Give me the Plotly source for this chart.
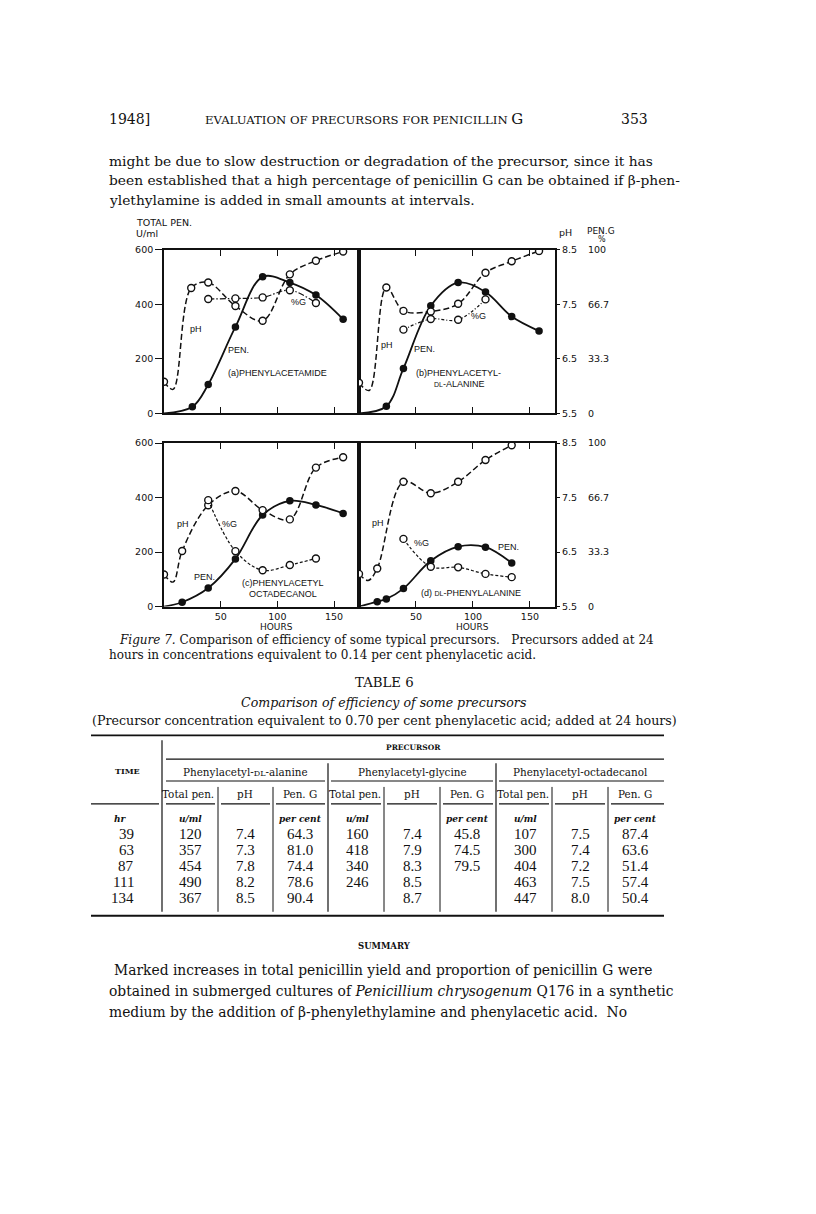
import plotly.graph_objects as go

W, H = 816, 1214

# ---------------- Figure 7 data ----------------
hour_ticks = [50, 100, 150]
pen_ticks = [0, 200, 400, 600]
pen_ticktext = ["0", "200", "400", "600"]
ph_ticks = [5.5, 6.5, 7.5, 8.5]
ph_ticktext = ["5.5", "6.5", "7.5", "8.5"]
g_ticks = [0, 33.3, 66.7, 100]
g_ticktext = ["0", "33.3", "66.7", "100"]

pen_start = (0, 0)   # total-penicillin curves start at the origin

# (a) phenylacetamide
a_pen_hours = [25, 39, 63, 87, 111, 134, 158]
a_pen = [24, 106, 317, 501, 480, 434, 345]
a_ph_hours = [0, 24, 39, 63, 87, 111, 134, 158]
a_ph = [6.08, 7.80, 7.90, 7.47, 7.20, 8.05, 8.30, 8.47]
a_ph_trough = (8, 5.94)
a_g_hours = [39, 63, 87, 111, 134]
a_g = [69.9, 70.3, 70.9, 75.3, 67.5]

# (b) phenylacetyl-DL-alanine
b_pen_hours = [24, 39, 63, 87, 111, 134, 158]
b_pen = [26, 165, 395, 480, 445, 355, 302]
b_ph_hours = [0, 24, 39, 63, 87, 111, 134, 158]
b_ph = [6.06, 7.81, 7.38, 7.37, 7.51, 8.08, 8.29, 8.48]
b_ph_trough = (9, 5.92)
b_g_hours = [39, 63, 87, 111]
b_g = [51.2, 57.7, 57.2, 69.7]

# (c) phenylacetyl octadecanol
c_pen_hours = [16, 39, 63, 87, 111, 134, 158]
c_pen = [16, 68, 175, 336, 388, 373, 342]
c_ph_hours = [0, 16, 39, 63, 87, 111, 134, 158]
c_ph = [6.09, 6.52, 7.36, 7.62, 7.27, 7.10, 8.05, 8.24]
c_ph_trough = (8, 5.95)
c_g_hours = [39, 63, 87, 111, 134]
c_g = [65.1, 33.9, 22.2, 25.4, 29.4]

# (d) DL-phenylalanine
d_pen_hours = [16, 24, 39, 63, 87, 111, 134]
d_pen = [18, 28, 66, 168, 220, 218, 160]
d_ph_hours = [0, 16, 39, 63, 87, 111, 134]
d_ph = [6.10, 6.20, 7.79, 7.58, 7.79, 8.19, 8.46]
d_ph_trough = (8, 5.98)
d_g_hours = [39, 63, 87, 111, 134]
d_g = [41.4, 24.4, 24.0, 20.0, 18.0]

# ---------------- Table 6 data ----------------
table_hours = [39, 63, 87, 111, 134]
ala_pen = [120, 357, 454, 490, 367]
ala_ph = [7.4, 7.3, 7.8, 8.2, 8.5]
ala_g = [64.3, 81.0, 74.4, 78.6, 90.4]
gly_pen = [160, 418, 340, 246, None]
gly_ph = [7.4, 7.9, 8.3, 8.5, 8.7]
gly_g = [45.8, 74.5, 79.5, None, None]
oct_pen = [107, 300, 404, 463, 447]
oct_ph = [7.5, 7.4, 7.2, 7.5, 8.0]
oct_g = [87.4, 63.6, 51.4, 57.4, 50.4]

# ---------------- helpers ----------------
SERIF = "DejaVu Serif, serif"
NUMF = "Liberation Serif, serif"
SANS = "Liberation Sans, Arial, sans-serif"
TICKF = "DejaVu Sans, sans-serif"
INK = "#111111"
OFF = 9  # page body margin compensation


def px(x):
    return (x - OFF) / W


def py(y):
    return 1 - (y - OFF) / H


def curve(hours, vals, extra):
    pts = sorted(list(zip(hours, vals)) + [extra])
    return [p[0] for p in pts], [p[1] for p in pts]


fig = go.Figure()

panels = [
    dict(x="x", pen="y", ph="y2", g="y3",
         pen_h=a_pen_hours, pen_v=a_pen, ph_h=a_ph_hours, ph_v=a_ph, tr=a_ph_trough,
         g_h=a_g_hours, g_v=a_g, gdash="6px,2px,1.5px,2px"),
    dict(x="x2", pen="y4", ph="y5", g="y6",
         pen_h=b_pen_hours, pen_v=b_pen, ph_h=b_ph_hours, ph_v=b_ph, tr=b_ph_trough,
         g_h=b_g_hours, g_v=b_g, gdash="3px,2px,1px,2px"),
    dict(x="x3", pen="y7", ph="y8", g="y9",
         pen_h=c_pen_hours, pen_v=c_pen, ph_h=c_ph_hours, ph_v=c_ph, tr=c_ph_trough,
         g_h=c_g_hours, g_v=c_g, gdash="3px,2px"),
    dict(x="x4", pen="y10", ph="y11", g="y12",
         pen_h=d_pen_hours, pen_v=d_pen, ph_h=d_ph_hours, ph_v=d_ph, tr=d_ph_trough,
         g_h=d_g_hours, g_v=d_g, gdash="3px,2px"),
]

for p in panels:
    cx, cy = curve(p["pen_h"], p["pen_v"], pen_start)
    fig.add_trace(go.Scatter(x=cx, y=cy, xaxis=p["x"], yaxis=p["pen"], mode="lines",
                             line=dict(color=INK, width=1.8, shape="spline", smoothing=1.0),
                             hoverinfo="skip", showlegend=False))
    fig.add_trace(go.Scatter(x=p["pen_h"], y=p["pen_v"], xaxis=p["x"], yaxis=p["pen"], mode="markers",
                             marker=dict(color=INK, size=7.5, line=dict(color=INK, width=0)),
                             showlegend=False))
    cx, cy = curve(p["ph_h"], p["ph_v"], p["tr"])
    fig.add_trace(go.Scatter(x=cx, y=cy, xaxis=p["x"], yaxis=p["ph"], mode="lines",
                             line=dict(color=INK, width=1.5, dash="6px,3px", shape="spline", smoothing=1.0),
                             hoverinfo="skip", showlegend=False))
    fig.add_trace(go.Scatter(x=p["ph_h"], y=p["ph_v"], xaxis=p["x"], yaxis=p["ph"], mode="markers",
                             marker=dict(color="white", size=7, line=dict(color=INK, width=1.4)),
                             showlegend=False))
    fig.add_trace(go.Scatter(x=p["g_h"], y=p["g_v"], xaxis=p["x"], yaxis=p["g"], mode="lines+markers",
                             line=dict(color=INK, width=1.2, dash=p["gdash"], shape="spline", smoothing=1.0),
                             marker=dict(color="white", size=7, line=dict(color=INK, width=1.4)),
                             showlegend=False))

# ---------------- axes ----------------
col_dom = [[px(165), px(360)], [px(360), px(556)]]
row_dom = [[py(412), py(247)], [py(607), py(442)]]
XR = [0, 172]

layout = {}
for i, p in enumerate(panels):
    col = i % 2
    row = i // 2
    xkey = "xaxis" if i == 0 else "xaxis%d" % (i + 1)
    ypen = p["pen"].replace("y", "yaxis")
    yph = p["ph"].replace("y", "yaxis")
    yg = p["g"].replace("y", "yaxis")
    layout[xkey] = dict(domain=col_dom[col], range=XR, anchor=p["pen"],
                        showline=True, linecolor=INK, linewidth=1.7, mirror="ticks",
                        ticks="inside", ticklen=6, tickwidth=1.4, tickcolor=INK,
                        tickvals=hour_ticks, showgrid=False, zeroline=False,
                        showticklabels=(row == 1),
                        tickfont=dict(family=TICKF, size=9.5, color=INK))
    layout[ypen] = dict(domain=row_dom[row], range=[0, 600], anchor=p["x"],
                        showline=True, linecolor=INK, linewidth=1.7, mirror=True,
                        showgrid=False, zeroline=False,
                        ticks="outside" if col == 0 else "", ticklen=7, tickwidth=1.4, tickcolor=INK,
                        tickvals=pen_ticks, ticktext=pen_ticktext,
                        showticklabels=(col == 0),
                        tickfont=dict(family=TICKF, size=9.5, color=INK))
    if col == 1:
        layout[yph] = dict(range=[5.5, 8.5], overlaying=p["pen"], anchor=p["x"], side="right",
                           showline=False, showgrid=False, zeroline=False,
                           ticks="outside", ticklen=4, tickwidth=1.4, tickcolor=INK,
                           tickvals=ph_ticks, ticktext=ph_ticktext,
                           tickfont=dict(family=TICKF, size=9.5, color=INK))
        layout[yg] = dict(range=[0, 100], overlaying=p["pen"], anchor="free", position=px(588),
                          side="right", showline=False, showgrid=False, zeroline=False, ticks="",
                          tickvals=g_ticks, ticktext=g_ticktext,
                          tickfont=dict(family=TICKF, size=9.5, color=INK))
    else:
        layout[yph] = dict(range=[5.5, 8.5], overlaying=p["pen"], anchor=p["x"], visible=False)
        layout[yg] = dict(range=[0, 100], overlaying=p["pen"], anchor=p["x"], visible=False)

fig.update_layout(**layout)

# ---------------- annotations ----------------
ann = []


def T(x, y, text, size=9, family=SANS, xanchor="center", yanchor="middle", color=INK):
    ann.append(dict(x=px(x), y=py(y), xref="paper", yref="paper", text=text, showarrow=False,
                    xanchor=xanchor, yanchor=yanchor,
                    font=dict(family=family, size=size, color=color)))


small = "<span style='font-size:7px'>%s</span>"

# chart labels
T(165, 219, "TOTAL PEN.", 9.5, TICKF)
T(148, 231, "U/ml", 9.5, TICKF)
T(566, 230, "pH", 9.5, TICKF)
T(602, 228, "PEN.G", 9, TICKF)
T(603, 237, "%", 8, TICKF)
T(277, 628, "HOURS", 9, TICKF)
T(473, 628, "HOURS", 9, TICKF)

T(197, 327, "pH", 9)
T(239, 348, "PEN.", 9)
T(278, 371, "(a)PHENYLACETAMIDE", 9)
T(299, 300, "%G", 9)

T(388, 343, "pH", 9)
T(426, 347, "PEN.", 9)
T(415, 371, "(b)PHENYLACETYL-", 9, xanchor="left")
T(460, 382, small % "DL" + "-ALANINE", 9)
T(480, 314, "%G", 9)

T(184, 524, "pH", 9)
T(231, 524, "%G", 9)
T(205, 577, "PEN.", 9)
T(284, 583, "(c)PHENYLACETYL", 9)
T(284, 594, "OCTADECANOL", 9)

T(379, 523, "pH", 9)
T(422, 543, "%G", 9)
T(509, 547, "PEN.", 9)
T(472, 593, "(d) " + small % "DL" + "-PHENYLALANINE", 9)

# page header and text
T(108, 115, "1948]", 14, SERIF, xanchor="left")
T(365, 115, "EVALUATION OF PRECURSORS FOR PENICILLIN <span style='font-size:15px'>G</span>", 11.7, SERIF)
T(651, 115, "353", 14, SERIF, xanchor="right")

para1 = ["might be due to slow destruction or degradation of the precursor, since it has",
         "been established that a high percentage of penicillin G can be obtained if β-phen-",
         "ylethylamine is added in small amounts at intervals."]
for k, line in enumerate(para1):
    T(108, 157 + 20 * k, line, 13.8, SERIF, xanchor="left")

T(118, 641, "<i>Figure 7.</i> Comparison of efficiency of some typical precursors.\u00a0\u00a0 Precursors added at 24",
  12.0, SERIF, xanchor="left")
T(108, 656, "hours in concentrations equivalent to 0.14 per cent phenylacetic acid.", 12.0, SERIF, xanchor="left")

T(385, 684, "TABLE 6", 13.3, SERIF)
T(385, 704, "<i>Comparison of efficiency of some precursors</i>", 12.6, SERIF)
T(385, 722, "(Precursor concentration equivalent to 0.70 per cent phenylacetic acid; added at 24 hours)",
  12.65, SERIF)

# table headers
T(414, 749, "<b>PRECURSOR</b>", 7.5, SERIF)
T(128, 773, "<b>TIME</b>", 8, SERIF)
groups = ["Phenylacetyl-" + "<span style='font-size:8px'>DL</span>" + "-alanine",
          "Phenylacetyl-glycine", "Phenylacetyl-octadecanol"]
group_x = [246, 413, 581]
sub_offsets = [-55, 0, 55]
sub_names = ["Total pen.", "pH", "Pen. G"]
unit_names = ["<b><i>u/ml</i></b>", "", "<b><i>per cent</i></b>"]
for g, gx in zip(groups, group_x):
    T(gx, 774, g, 10.4, SERIF)
    for off, nm, un in zip(sub_offsets, sub_names, unit_names):
        T(gx + off - (2 if off < 0 else 0), 796, nm, 10.4, SERIF)
        if un:
            T(gx + off, 821, un, 9, SERIF)
T(121, 821, "<b><i>hr</i></b>", 9, SERIF)

row_y = [836, 853, 869, 885, 901]


def fmt(v, dec):
    if v is None:
        return ""
    return ("%." + str(dec) + "f") % v if dec else str(v)


cols = [(ala_pen, 0), (ala_ph, 1), (ala_g, 1),
        (gly_pen, 0), (gly_ph, 1), (gly_g, 1),
        (oct_pen, 0), (oct_ph, 1), (oct_g, 1)]
col_x = [gx + off for gx in group_x for off in sub_offsets]
for r, yy in enumerate(row_y):
    T(137, yy, str(table_hours[r]), 15, NUMF, xanchor="right")
    for (vals, dec), cxp in zip(cols, col_x):
        s = fmt(vals[r], dec)
        if s:
            T(cxp, yy, s, 15, NUMF)

T(385, 950, "<b>SUMMARY</b>", 8.5, SERIF)
para2 = ["Marked increases in total penicillin yield and proportion of penicillin G were",
         "obtained in submerged cultures of <i>Penicillium chrysogenum</i> Q176 in a synthetic",
         "medium by the addition of β-phenylethylamine and phenylacetic acid.\u00a0 No"]
for k, line in enumerate(para2):
    T(113 if k == 0 else 108, 974 + 21 * k, line, 13.85, SERIF, xanchor="left")

# ---------------- table rules ----------------
shapes = []


def L(x0, y0, x1, y1, w=1.0):
    shapes.append(dict(type="line", xref="paper", yref="paper", x0=px(x0), y0=py(y0),
                       x1=px(x1), y1=py(y1), line=dict(color=INK, width=w)))


L(92, 737, 665, 737, 1.8)
L(92, 919, 665, 919, 1.8)
L(163, 742, 163, 915, 1.2)
L(167, 761, 665, 761, 1.2)
for xs in (329, 497):
    L(xs, 765, xs, 915, 1.2)
for a, b in [(167, 326), (332, 494), (500, 665)]:
    L(a, 783, b, 783, 1.2)
for xs in (219, 274, 385, 441, 553, 609):
    L(xs, 789, xs, 915, 1.0)
for a, b in [(92, 160), (167, 216), (222, 271), (277, 326), (332, 382), (388, 438),
             (444, 494), (500, 550), (556, 606), (612, 665)]:
    L(a, 806, b, 806, 1.2)

fig.update_layout(width=W, height=H, margin=dict(l=0, r=0, t=0, b=0),
                  paper_bgcolor="white", plot_bgcolor="white",
                  annotations=ann, shapes=shapes, showlegend=False)

fig.write_html("out.html")
